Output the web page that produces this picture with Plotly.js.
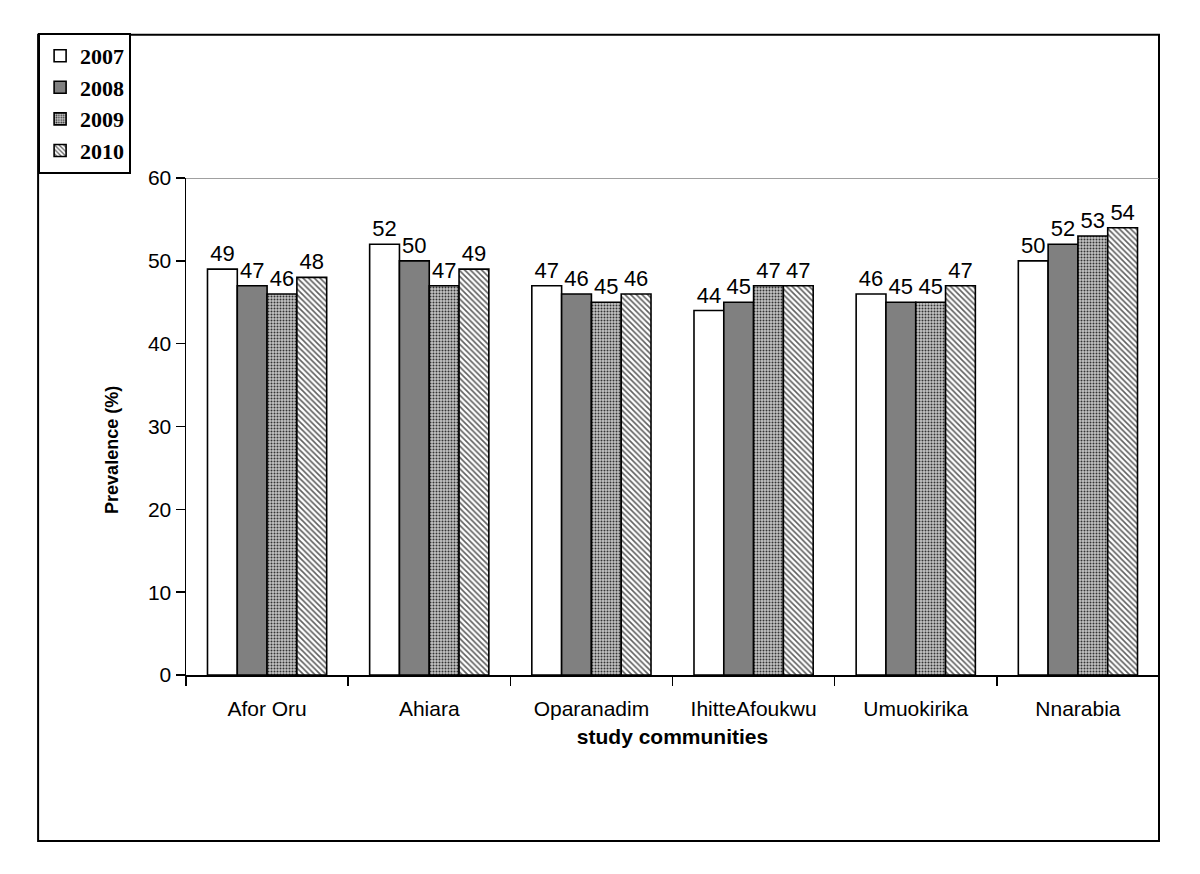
<!DOCTYPE html>
<html>
<head>
<meta charset="utf-8">
<script src="https://cdn.plot.ly/plotly-3.0.1.min.js"></script>
<style>html,body{margin:0;padding:0;background:#fff;}#chart{width:1200px;height:874px;}</style>
</head>
<body>
<div id="chart"></div>
<script>
const categories = ["Afor Oru", "Ahiara", "Oparanadim", "IhitteAfoukwu", "Umuokirika", "Nnarabia"];
const years = ["2007", "2008", "2009", "2010"];
const v2007 = [49, 52, 47, 44, 46, 50];
const v2008 = [47, 50, 46, 45, 45, 52];
const v2009 = [46, 47, 45, 47, 45, 53];
const v2010 = [48, 49, 46, 47, 47, 54];
const yTicks = [0, 10, 20, 30, 40, 50, 60];
const xTitle = "study communities";
const yTitle = "Prevalence (%)";

const series = [v2007, v2008, v2009, v2010];
const markers = [
  {color: "#ffffff", line: {color: "#000", width: 1.6}},
  {color: "#808080", line: {color: "#000", width: 1.6}},
  {color: "#b0b0b0", line: {color: "#000", width: 1.6},
   pattern: {shape: ".", fgcolor: "#333333", bgcolor: "#c4c4c4", size: 3, solidity: 0.35}},
  {color: "#ffffff", line: {color: "#000", width: 1.6},
   pattern: {shape: "\\", fgcolor: "#606060", bgcolor: "#ffffff", size: 4, solidity: 0.4}}
];

const traces = series.map((vals, i) => ({
  type: "bar",
  name: years[i],
  x: categories,
  y: vals,
  marker: markers[i],
  text: vals.map(String),
  textposition: "outside",
  cliponaxis: false,
  constraintext: "none",
  textfont: {family: "Liberation Sans, Arial, sans-serif", size: 22, color: "#000"},
  hoverinfo: "x+y"
}));

const layout = {
  width: 1200, height: 874,
  margin: {l: 186, r: 41, t: 178, b: 199},
  paper_bgcolor: "#fff", plot_bgcolor: "#fff",
  barmode: "group",
  bargap: 0.265,
  bargroupgap: 0,
  showlegend: true,
  legend: {
    x: -0.152, y: 1.292, xanchor: "left", yanchor: "top",
    bordercolor: "#000", borderwidth: 2, bgcolor: "#fff",
    font: {family: "Liberation Serif, Times New Roman, serif", size: 22, color: "#000", weight: "bold"},
    tracegroupgap: 0, itemwidth: 30
  },
  xaxis: {
    type: "category",
    tickson: "boundaries",
    ticks: "outside", ticklen: 9, tickwidth: 1.5, tickcolor: "#000",
    showline: true, linecolor: "#000", linewidth: 1.5,
    showgrid: false,
    ticklabelstandoff: 14,
    tickfont: {family: "Liberation Sans, Arial, sans-serif", size: 21, color: "#000"},
    title: {text: xTitle, standoff: 10,
      font: {family: "Liberation Sans, Arial, sans-serif", size: 21, color: "#000", weight: "bold"}}
  },
  yaxis: {
    range: [0, 60],
    tickvals: yTicks,
    ticks: "outside", ticklen: 9, tickwidth: 1.5, tickcolor: "#000",
    showline: true, linecolor: "#000", linewidth: 1.5,
    showgrid: false, zeroline: false,
    tickfont: {family: "Liberation Sans, Arial, sans-serif", size: 21, color: "#000"}
  },
  annotations: [
    {text: "<b>" + yTitle + "</b>", xref: "paper", yref: "paper", x: -0.076, y: 0.453,
     xanchor: "center", yanchor: "middle", textangle: -90, showarrow: false,
     font: {family: "Liberation Sans, Arial, sans-serif", size: 18, color: "#000"}}
  ],
  shapes: [
    {type: "line", xref: "paper", yref: "y", x0: 0, x1: 1, y0: 60, y1: 60,
     line: {color: "#808080", width: 1.5}},
    {type: "rect", xref: "paper", yref: "paper", x0: -0.152, x1: 1, y0: -0.334, y1: 1.288,
     line: {color: "#000", width: 2}, fillcolor: "rgba(0,0,0,0)", layer: "below"}
  ]
};

Plotly.newPlot("chart", traces, layout, {displayModeBar: false, staticPlot: true});
</script>
</body>
</html>
